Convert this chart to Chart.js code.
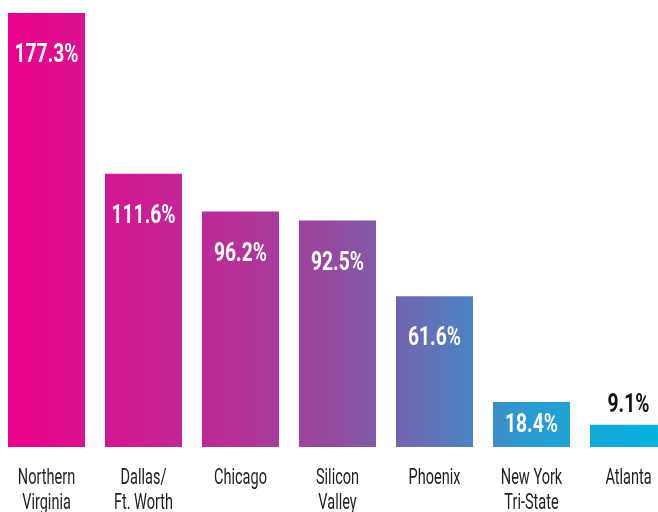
<!DOCTYPE html>
<html>
<head>
<meta charset="utf-8">
<script src="https://cdn.jsdelivr.net/npm/chart.js@4.4.1/dist/chart.umd.min.js"></script>
<style>
  html, body { margin: 0; padding: 0; background: #fff; overflow: hidden; }
  #wrap { position: relative; width: 658px; height: 512px; overflow: hidden; }
  #box { position: absolute; left: -2px; top: 0; width: 679px; height: 512px; }
</style>
</head>
<body>
<div id="wrap"><div id="box"><canvas id="growth-canvas"></canvas></div></div>
<script>
  "use strict";

  // Markets (two-line labels) and growth values
  var markets = [
    ["Northern", "Virginia"],
    ["Dallas/", "Ft. Worth"],
    ["Chicago"],
    ["Silicon", "Valley"],
    ["Phoenix"],
    ["New York", "Tri-State"],
    ["Atlanta"]
  ];
  var growth = [177.3, 111.6, 96.2, 92.5, 61.6, 18.4, 9.1];
  var valueLabels = ["177.3%", "111.6%", "96.2%", "92.5%", "61.6%", "18.4%", "9.1%"];

  var fontFamily = "Roboto, 'DejaVu Sans', sans-serif";

  // one gradient running across the whole chart, magenta -> cyan
  function barGradient(ctx) {
    var chart = ctx.chart;
    var area = chart.chartArea;
    if (!area) return "#EC008C";
    var g = chart.ctx.createLinearGradient(area.left + 8, 0, area.left + 667, 0);
    g.addColorStop(0.0, "#EC008C");
    g.addColorStop(0.35, "#B5319A");
    g.addColorStop(0.50, "#944B9F");
    g.addColorStop(0.65, "#5F74B8");
    g.addColorStop(0.79, "#2A9BD2");
    g.addColorStop(1.0, "#00B4E0");
    return g;
  }

  // draw text squeezed horizontally (condensed look)
  function narrowText(c, text, x, y, squeeze) {
    c.save();
    c.translate(x, y);
    c.scale(squeeze, 1);
    c.fillText(text, 0, 0);
    c.restore();
  }

  // value labels inside bars, category labels under the bars
  var labelPlugin = {
    id: "marketLabels",
    afterDatasetsDraw: function (chart) {
      var c = chart.ctx;
      var meta = chart.getDatasetMeta(0);
      var xScale = chart.scales.x;
      c.save();
      c.textAlign = "center";
      c.textBaseline = "alphabetic";

      c.font = "bold 25px " + fontFamily;
      meta.data.forEach(function (bar, i) {
        var h = bar.base - bar.y;
        var y;
        if (h < 30) {
          c.fillStyle = "#111";
          y = bar.y - 13;
        } else if (h < 80) {
          c.fillStyle = "#fff";
          y = bar.y + h / 2 + 8;
        } else {
          c.fillStyle = "#fff";
          y = bar.y + 49;
        }
        narrowText(c, valueLabels[i], bar.x, y, 0.77);
      });

      c.font = "22px " + fontFamily;
      c.fillStyle = "#222";
      markets.forEach(function (lines, i) {
        var x = xScale.getPixelForValue(i);
        lines.forEach(function (line, j) {
          narrowText(c, line, x, chart.chartArea.bottom + 37 + j * 25, 0.66);
        });
      });
      c.restore();
    }
  };

  var growthCanvas = document.getElementById("growth-canvas");

  var growthChart = new Chart(growthCanvas, {
    type: "bar",
    data: {
      labels: markets,
      datasets: [
        {
          label: "Growth",
          data: growth,
          backgroundColor: barGradient,
          borderWidth: 0,
          categoryPercentage: 1,
          barPercentage: 77 / 97,
        },
      ],
    },
    options: {
      responsive: true,
      maintainAspectRatio: false,
      animation: false,
      layout: { padding: { top: 0, left: 0, right: 0, bottom: 65 } },
      plugins: {
        legend: { display: false },
        tooltip: { enabled: false },
      },
      scales: {
        x: { display: false },
        y: {
          display: false,
          min: 0,
          max: 182.6,
        },
      },
    },
    plugins: [labelPlugin],
  });
</script>
</body>
</html>
